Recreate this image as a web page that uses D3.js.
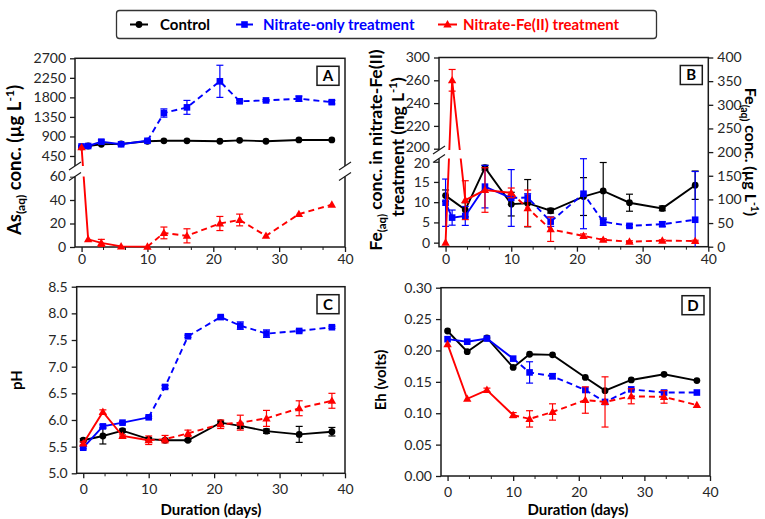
<!DOCTYPE html>
<html><head><meta charset="utf-8">
<script src="https://cdn.jsdelivr.net/npm/d3@7"></script>
<style>body{margin:0;background:#fff;} svg{display:block;font-family:Lato,"Open Sans",sans-serif;}</style>
</head><body>
<script>
// ---------------- DATA ----------------
const days = [0,1,3,6,10,12.5,16,21,24,28,33,38];
const daysNo1 = [0,3,6,10,12.5,16,21,24,28,33,38];
const xTicks = [0,10,20,30,40];

// Panel A: As(aq) (µg/L)
const asControl    = [660,680,720,730,790,800,800,790,810,790,820,820];
const asNitrate    = [670,680,780,720,800,1440,1570,2170,1710,1730,1770,1690];
const asNitrateErr = [20,20,40,20,30,95,160,370,30,20,60,40];
const asFe         = [650,6.5,3.5,0.5,0.3,12,9.5,20,23,9.5,28,36];
const asFeErr      = [0,0,3,0,0,5,6,6,5,0,0,0];
const asUpperTicks = [450,900,1350,1800,2250,2700];
const asLowerTicks = [0,20,40,60];

// Panel B: Fe(aq)
const feControl    = [108,78,167,90,92,76,106,118,93,81,130];      // µg/L (right axis), daysNo1
const feControlErr = [12,15,5,25,50,5,40,60,18,5,30];
const feNitrate    = [93,61.5,65,127,103,104,53,112,53,44,47.5,57]; // µg/L (right axis), days
const feNitrateErr = [50,16,20,45,60,8,10,74,8,3,5,102];
const feFe         = [0,260,10.5,13,12.3,8.5,3.3,1.65,0.7,0.25,0.5,0.4]; // mg/L (left axis), days
const feFeErr      = [0,9.5,4.8,5.5,1.2,4.5,3,0.5,0.3,0.2,0.2,0.2];
const feUpperTicks = [200,220,240,260,280];
const feUpperTickLabels = ["200","220","240","260","300"];
const feLowerTicks = [0,5,10,15,20];
const feRightTicks = [0,50,100,150,200,250,300,350,400];

// Panel C: pH
const phControl    = [5.62,5.70,5.80,5.64,5.62,5.62,5.95,5.89,5.79,5.73,5.78];
const phControlErr = [0.03,0.15,0.03,0.03,0.02,0.02,0.03,0.05,0.04,0.15,0.08];
const phNitrate    = [5.48,5.88,5.95,6.05,6.62,7.57,7.93,7.77,7.62,7.67,7.74];
const phNitrateErr = [0.02,0.03,0.02,0.02,0.03,0.02,0.02,0.07,0.07,0.02,0.02];
const phFe         = [5.56,6.15,5.70,5.62,5.64,5.75,5.92,5.95,6.03,6.22,6.36];
const phFeErr      = [0.03,0.04,0.02,0.08,0.07,0.06,0.08,0.14,0.15,0.14,0.14];
const phTicks = [5.0,5.5,6.0,6.5,7.0,7.5,8.0,8.5];

// Panel D: Eh (volts)
const ehControl    = [0.231,0.198,0.220,0.173,0.194,0.193,0.157,0.136,0.153,0.162,0.152];
const ehNitrate    = [0.218,0.214,0.219,0.187,0.165,0.159,0.137,0.118,0.138,0.133,0.133];
const ehNitrateErr = [0,0,0,0,0.017,0.004,0,0,0,0,0];
const ehFe         = [0.210,0.123,0.137,0.097,0.091,0.102,0.121,0.118,0.127,0.126,0.113];
const ehFeErr      = [0,0,0.003,0.004,0.013,0.013,0.021,0.04,0.012,0.01,0];
const ehTicks = [0,0.05,0.10,0.15,0.20,0.25,0.30];

const seriesNames = ["Control","Nitrate-only treatment","Nitrate-Fe(II) treatment"];
const colors = ["#000000","#0000ff","#ff0000"];
const markers = ["circle","square","triangle"];

// ---------------- DRAWING ----------------
const W=765,H=519;
const svg=d3.select("body").append("svg").attr("width",W).attr("height",H);
const FRAME="#1a1a1a", TXT="#262626";

function drawMarker(g,type,cx,cy,color){
  if(type==="circle") g.append("circle").attr("cx",cx).attr("cy",cy).attr("r",3.4).attr("fill",color);
  else if(type==="square") g.append("rect").attr("x",cx-3.3).attr("y",cy-3.3).attr("width",6.6).attr("height",6.6).attr("fill",color);
  else g.append("path").attr("d",`M${cx},${cy-4.4}L${cx+4.2},${cy+3}L${cx-4.2},${cy+3}Z`).attr("fill",color);
}

function drawSeries(g,x,y,xs,ys,errs,ci,split,bottom){
  const color=colors[ci], pts=xs.map((d,i)=>({x:d,y:ys[i],e:errs?errs[i]:0}));
  const eg=g.append("g").attr("stroke",color).attr("stroke-width",1.2);
  pts.filter(d=>d.e>0).forEach(d=>{
    const px=x(d.x), y1=y(d.y+d.e), y2=Math.min(y(d.y-d.e),bottom);
    eg.append("line").attr("x1",px).attr("x2",px).attr("y1",y1).attr("y2",y2);
    eg.append("line").attr("x1",px-3.5).attr("x2",px+3.5).attr("y1",y1).attr("y2",y1);
    if(y(d.y-d.e)<=bottom) eg.append("line").attr("x1",px-3.5).attr("x2",px+3.5).attr("y1",y2).attr("y2",y2);
  });
  const line=d3.line().x(d=>x(d.x)).y(d=>y(d.y));
  const solid = split==null?pts:pts.filter(d=>d.x<=split);
  const dashed = split==null?[]:pts.filter(d=>d.x>=split);
  g.append("path").attr("d",line(solid)).attr("fill","none").attr("stroke",color).attr("stroke-width",1.9);
  if(dashed.length>1) g.append("path").attr("d",line(dashed)).attr("fill","none").attr("stroke",color).attr("stroke-width",1.9).attr("stroke-dasharray","6,4");
  pts.forEach(d=>drawMarker(g,markers[ci],x(d.x),y(d.y),color));
}

function styleAxis(ag){
  ag.select(".domain").remove();
  ag.selectAll(".tick line").attr("stroke",FRAME).attr("stroke-width",1.3);
  ag.selectAll(".tick text").attr("fill",TXT).attr("font-size",14).attr("font-family","Lato");
  return ag;
}

function xAxis(p,pad){
  const ag=svg.append("g").attr("transform",`translate(0,${p.bottom})`)
    .call(d3.axisBottom(p.x).tickValues(xTicks).tickSize(5).tickPadding(pad).tickSizeOuter(0));
  styleAxis(ag);
  const minor=d3.range(1,13).filter(i=>i%3!==0).map(i=>i*10/3);
  ag.selectAll(".minor").data(minor).enter().append("line")
    .attr("x1",d=>p.x(d)).attr("x2",d=>p.x(d)).attr("y1",0).attr("y2",3).attr("stroke",FRAME).attr("stroke-width",1);
}

function frame(p){
  svg.append("rect").attr("x",p.left).attr("y",p.top).attr("width",p.right-p.left).attr("height",p.bottom-p.top)
    .attr("fill","none").attr("stroke",FRAME).attr("stroke-width",1.5);
}

function panelLabel(p,letter){
  const w=22,h=19,x=p.right-6-w,y=p.top+8;
  svg.append("rect").attr("x",x).attr("y",y).attr("width",w).attr("height",h).attr("fill","#fff").attr("stroke",FRAME).attr("stroke-width",1.5);
  svg.append("text").attr("x",x+w/2).attr("y",y+h/2).attr("dy","0.36em").attr("text-anchor","middle")
    .attr("font-weight","bold").attr("font-size",15).attr("fill","#000").text(letter);
}

function breakMarks(ax,yTop,yBot){
  [yTop,yBot].forEach(yb=>{
    svg.append("line").attr("x1",ax-6).attr("x2",ax+6).attr("y1",yb+4).attr("y2",yb-4).attr("stroke",FRAME).attr("stroke-width",1.2);
  });
}

function richTitle(cx,cy,rot,parts,size){
  const t=svg.append("text").attr("transform",`translate(${cx},${cy}) rotate(${rot})`)
    .attr("text-anchor","middle").attr("font-weight","bold").attr("font-size",size).attr("fill","#000");
  let shift=0;
  parts.forEach(([s,type])=>{
    let target = type==="sub"? 0.22*size : type==="sup"? -0.38*size : 0;
    const ts=t.append("tspan").text(s).attr("dy",target-shift);
    if(type) ts.attr("font-size",size*0.65);
    shift=target;
  });
  return t;
}

// ---------- Panel A ----------
const pA={left:75,right:345,top:58.3,bottom:247};
pA.x=d3.scaleLinear().domain([-1,40]).range([pA.left,pA.right]);
const aBrTop=166, aBrBot=176.5;
const yAUp=d3.scaleLinear().domain([450,2700]).range([156,pA.top]);
const yALow=d3.scaleLinear().domain([0,60]).range([pA.bottom,aBrBot]);
const yA=v=> v>=100? yAUp(v): yALow(v);
frame(pA);
styleAxis(svg.append("g").attr("transform",`translate(${pA.left},0)`).call(d3.axisLeft(yAUp).tickValues(asUpperTicks).tickFormat(d3.format("d")).tickSize(5).tickPadding(4)));
styleAxis(svg.append("g").attr("transform",`translate(${pA.left},0)`).call(d3.axisLeft(yALow).tickValues(asLowerTicks).tickFormat(d3.format("d")).tickSize(5).tickPadding(4)));
xAxis(pA,2);
const gA=svg.append("g");
drawSeries(gA,pA.x,yA,days,asControl,null,0,null,pA.bottom);
drawSeries(gA,pA.x,yA,days,asNitrate,asNitrateErr,1,10,pA.bottom);
drawSeries(gA,pA.x,yA,days,asFe,asFeErr,2,10,pA.bottom);
svg.append("rect").attr("x",pA.left-7).attr("y",aBrTop).attr("width",pA.right-pA.left+14).attr("height",aBrBot-aBrTop).attr("fill","#fff");
breakMarks(pA.left,aBrTop,aBrBot); breakMarks(pA.right,aBrTop,aBrBot);
panelLabel(pA,"A");
richTitle(21,160,-90,[["As"],["(aq)","sub"],[" conc. (µg L"],["-1","sup"],[")"]],18.5);

// ---------- Panel B ----------
const pB={left:439,right:708.3,top:57.5,bottom:246.7};
pB.x=d3.scaleLinear().domain([-1,40]).range([pB.left,pB.right]);
const bBrTop=150, bBrBot=158.5;
const yBUp=d3.scaleLinear().domain([200,280]).range([148.7,pB.top]);
const yBLow=d3.scaleLinear().domain([-1,20]).range([pB.bottom,161.7]);
const yBL=v=> v>=100? yBUp(v): yBLow(v);
const yBR=d3.scaleLinear().domain([0,400]).range([pB.bottom,pB.top]);
frame(pB);
const bUpAx=styleAxis(svg.append("g").attr("transform",`translate(${pB.left},0)`).call(d3.axisLeft(yBUp).tickValues(feUpperTicks).tickFormat((d,i)=>feUpperTickLabels[i]).tickSize(5).tickPadding(4)));
bUpAx.selectAll(".tick text").filter(d=>d===200).attr("y",-1.5);
const bLowAx=styleAxis(svg.append("g").attr("transform",`translate(${pB.left},0)`).call(d3.axisLeft(yBLow).tickValues(feLowerTicks).tickSize(5).tickPadding(4)));
bLowAx.selectAll(".tick text").filter(d=>d===20).attr("y",1.5);
styleAxis(svg.append("g").attr("transform",`translate(${pB.right},0)`).call(d3.axisRight(yBR).tickValues(feRightTicks).tickSize(5).tickPadding(4)));
xAxis(pB,2);
const gB=svg.append("g");
drawSeries(gB,pB.x,yBR,daysNo1,feControl,feControlErr,0,null,pB.bottom);
drawSeries(gB,pB.x,yBR,days,feNitrate,feNitrateErr,1,10,pB.bottom);
drawSeries(gB,pB.x,yBL,days,feFe,feFeErr,2,10,pB.bottom);
svg.append("rect").attr("x",pB.left-7).attr("y",bBrTop).attr("width",36).attr("height",bBrBot-bBrTop).attr("fill","#fff");
breakMarks(pB.left,bBrTop,bBrBot);
panelLabel(pB,"B");
richTitle(382,150,-90,[["Fe"],["(aq)","sub"],[" conc. in nitrate-Fe(II)"]],17.5);
richTitle(404,147,-90,[["treatment (mg L"],["-1","sup"],[")"]],17.5);
richTitle(745,152,90,[["Fe"],["(aq)","sub"],[" conc. (µg L"],["-1","sup"],[")"]],16);

// ---------- Panel C ----------
const pC={left:76.7,right:345,top:286.7,bottom:473.3};
pC.x=d3.scaleLinear().domain([-1,40]).range([pC.left,pC.right]);
const yC=d3.scaleLinear().domain([5,8.5]).range([pC.bottom,pC.top]);
frame(pC);
styleAxis(svg.append("g").attr("transform",`translate(${pC.left},0)`).call(d3.axisLeft(yC).tickValues(phTicks).tickFormat(d3.format(".1f")).tickSize(5).tickPadding(4)));
xAxis(pC,6);
const gC=svg.append("g");
drawSeries(gC,pC.x,yC,daysNo1,phControl,phControlErr,0,null,pC.bottom);
drawSeries(gC,pC.x,yC,daysNo1,phNitrate,phNitrateErr,1,10,pC.bottom);
drawSeries(gC,pC.x,yC,daysNo1,phFe,phFeErr,2,10,pC.bottom);
panelLabel(pC,"C");
richTitle(22,380,-90,[["pH"]],15);
richTitle(211,515,0,[["Duration (days)"]],15);

// ---------- Panel D ----------
const pD={left:441,right:710,top:287.7,bottom:476};
pD.x=d3.scaleLinear().domain([-1,40]).range([pD.left,pD.right]);
const yD=d3.scaleLinear().domain([0,0.3]).range([pD.bottom,pD.top]);
frame(pD);
styleAxis(svg.append("g").attr("transform",`translate(${pD.left},0)`).call(d3.axisLeft(yD).tickValues(ehTicks).tickFormat(d3.format(".2f")).tickSize(5).tickPadding(4)));
xAxis(pD,6);
const gD=svg.append("g");
drawSeries(gD,pD.x,yD,daysNo1,ehControl,null,0,null,pD.bottom);
drawSeries(gD,pD.x,yD,daysNo1,ehNitrate,ehNitrateErr,1,10,pD.bottom);
drawSeries(gD,pD.x,yD,daysNo1,ehFe,ehFeErr,2,10,pD.bottom);
panelLabel(pD,"D");
richTitle(386,380,-90,[["Eh (volts)"]],15);
richTitle(578,515,0,[["Duration (days)"]],15);

// ---------- Legend ----------
svg.append("rect").attr("x",116.5).attr("y",10.5).attr("width",540).attr("height",28).attr("rx",3)
  .attr("fill","#fff").attr("stroke","#333").attr("stroke-width",1.3);
const legX=[[130,148,160],[236,253,263],[438,457,463]];
seriesNames.forEach((n,i)=>{
  const [a,b,tx]=legX[i], ly=24.5;
  svg.append("line").attr("x1",a).attr("x2",b).attr("y1",ly).attr("y2",ly).attr("stroke",colors[i]).attr("stroke-width",2);
  drawMarker(svg,markers[i],(a+b)/2,ly,colors[i]);
  svg.append("text").attr("x",tx).attr("y",ly).attr("dy","0.36em").attr("font-size",15).attr("font-weight","bold")
    .attr("fill",colors[i]).text(n);
});
</script>
</body></html>
